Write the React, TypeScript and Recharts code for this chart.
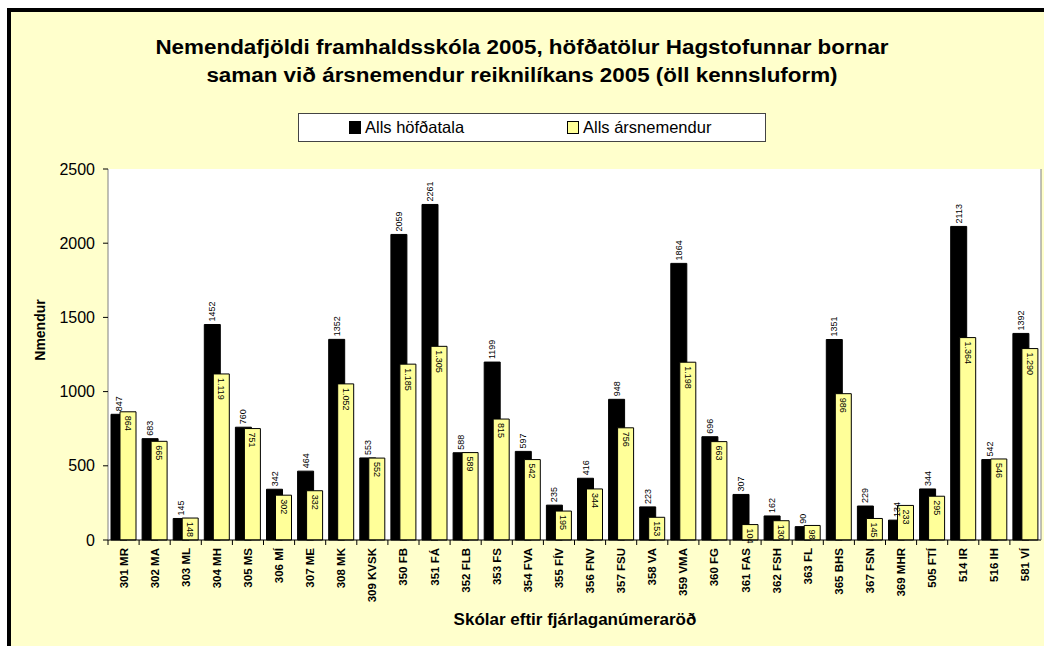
import React from 'react';
import { BarChart, Bar, XAxis, YAxis, CartesianGrid, LabelList, Legend } from 'recharts';

const categories = [
  '301 MR', '302 MA', '303 ML', '304 MH', '305 MS', '306 MÍ', '307 ME', '308 MK', '309 KVSK', '350 FB',
  '351 FÁ', '352 FLB', '353 FS', '354 FVA', '355 FÍV', '356 FNV', '357 FSU', '358 VA', '359 VMA', '360 FG',
  '361 FAS', '362 FSH', '363 FL', '365 BHS', '367 FSN', '369 MHR', '505 FTÍ', '514 IR', '516 IH', '581 VÍ',
];
const hofdatala = [
  847, 683, 145, 1452, 760, 342, 464, 1352, 553, 2059,
  2261, 588, 1199, 597, 235, 416, 948, 223, 1864, 696,
  307, 162, 90, 1351, 229, 134, 344, 2113, 542, 1392,
];
const arsnemendur = [
  864, 665, 148, 1119, 751, 302, 332, 1052, 552, 1185,
  1305, 589, 815, 542, 195, 344, 756, 153, 1198, 663,
  104, 130, 98, 986, 145, 233, 295, 1364, 546, 1290,
];
const yTicks = [0, 500, 1000, 1500, 2000, 2500];
const blackGrid = [1000, 1500, 2000];
const grayGrid = [500, 2500];

const seriesNames = { hofdatala: 'Alls höfðatala', arsnemendur: 'Alls ársnemendur' };
const titleLines = [
  'Nemendafjöldi framhaldsskóla 2005, höfðatölur Hagstofunnar bornar',
  'saman við ársnemendur reiknilíkans 2005 (öll kennsluform)',
];
const xTitle = 'Skólar eftir fjárlaganúmeraröð';
const yTitle = 'Nmendur';

const data = categories.map((name, i) => ({ name, hofdatala: hofdatala[i], arsnemendur: arsnemendur[i] }));

const FONT = '"Liberation Sans", Arial, Helvetica, sans-serif';
const YELLOW = '#FFFF99';
const BG = '#FFFFCC';

const fmtDot = (v: number) => {
  const s = String(Math.round(v));
  return s.length > 3 ? s.slice(0, s.length - 3) + '.' + s.slice(s.length - 3) : s;
};

const XTick = (props: any) => {
  const { x, y, payload } = props;
  const half = payload && payload.offset != null ? payload.offset : 15.5;
  return (
    <g>
      <line x1={x - half} x2={x - half} y1={y} y2={y + 5} stroke="#000" />
      <text
        transform={`translate(${x + 4},${y + 8}) rotate(-90)`}
        textAnchor="end"
        fontSize={11.5}
        fontWeight="bold"
        fill="#000"
        fontFamily={FONT}
      >
        {payload.value}
      </text>
    </g>
  );
};

const BlackLabel = (props: any) => {
  const { x, y, width, value } = props;
  const cx = Number(x) + Number(width) / 2;
  return (
    <text
      transform={`translate(${cx + 3},${Number(y) - 3}) rotate(-90)`}
      textAnchor="start"
      fontSize={9}
      fill="#000"
      fontFamily={FONT}
    >
      {value}
    </text>
  );
};

const YellowLabel = (props: any) => {
  const { x, y, width, value } = props;
  const cx = Number(x) + Number(width) / 2;
  return (
    <text
      transform={`translate(${cx - 3},${Number(y) + 4}) rotate(90)`}
      textAnchor="start"
      fontSize={9}
      fill="#000"
      fontFamily={FONT}
    >
      {fmtDot(Number(value))}
    </text>
  );
};

const LegendBox = (props: any) => {
  const items = props.payload || [];
  return (
    <div
      style={{
        width: 466,
        height: 27,
        background: '#fff',
        border: '1px solid #444',
        position: 'relative',
        fontFamily: FONT,
        fontSize: 16.5,
        color: '#000',
      }}
    >
      {items.map((it: any, i: number) => (
        <div
          key={i}
          style={{
            position: 'absolute',
            left: i === 0 ? 50 : 268,
            top: 4,
            display: 'flex',
            alignItems: 'center',
            whiteSpace: 'nowrap',
          }}
        >
          <span
            style={{
              display: 'inline-block',
              width: 10,
              height: 11,
              background: it.color,
              border: '1px solid #000',
              marginRight: 4,
            }}
          />
          <span>{it.value}</span>
        </div>
      ))}
    </div>
  );
};

export default function App() {
  return (
    <div
      style={{
        position: 'absolute',
        left: 0,
        top: 0,
        width: 1044,
        height: 646,
        background: '#fff',
        overflow: 'hidden',
        fontFamily: FONT,
      }}
    >
      <div
        style={{
          position: 'absolute',
          left: 7,
          top: 8,
          width: 1044,
          height: 646,
          background: BG,
          borderLeft: '4px solid #000',
          borderTop: '4px solid #000',
        }}
      />
      {titleLines.map((t, i) => (
        <div
          key={i}
          style={{
            position: 'absolute',
            left: 0,
            width: 1044,
            top: 34 + i * 28,
            textAlign: 'center',
            fontWeight: 'bold',
            fontSize: 20,
            lineHeight: '26px',
            transform: 'scaleX(1.12)',
            transformOrigin: '522px 0',
            color: '#000',
            whiteSpace: 'nowrap',
          }}
        >
          {t}
        </div>
      ))}
      <div
        style={{
          position: 'absolute',
          left: 575 - 200,
          width: 400,
          top: 609,
          textAlign: 'center',
          fontWeight: 'bold',
          fontSize: 17,
          lineHeight: '22px',
          color: '#000',
          whiteSpace: 'nowrap',
        }}
      >
        {xTitle}
      </div>
      <div
        style={{
          position: 'absolute',
          left: 40 - 60,
          top: 330 - 11,
          width: 120,
          textAlign: 'center',
          fontWeight: 'bold',
          fontSize: 14,
          lineHeight: '22px',
          transform: 'rotate(-90deg)',
          transformOrigin: '60px 11px',
          color: '#000',
          whiteSpace: 'nowrap',
        }}
      >
        {yTitle}
      </div>
      <div style={{ position: 'absolute', left: 0, top: 0 }}>
        <BarChart
          width={1044}
          height={646}
          data={data}
          margin={{ top: 169, right: 2, bottom: 46, left: 48 }}
          barSize={16}
          barGap={-7}
          style={{ fontFamily: FONT }}
        >
          <CartesianGrid
            vertical={false}
            horizontalValues={blackGrid}
            stroke="#000"
            strokeWidth={1}
            fill="#fff"
            fillOpacity={1}
          />
          <CartesianGrid vertical={false} horizontalValues={grayGrid} stroke="#808080" strokeWidth={1} />
          <XAxis
            dataKey="name"
            type="category"
            height={60}
            interval={0}
            tickSize={0}
            tickMargin={0}
            tickLine={false}
            axisLine={{ stroke: '#000' }}
            tick={<XTick />}
          />
          <YAxis
            yAxisId="left"
            domain={[0, 2500]}
            ticks={yTicks}
            width={60}
            tickSize={5}
            tickMargin={8}
            axisLine={{ stroke: '#808080' }}
            tickLine={{ stroke: '#000' }}
            tick={{ fill: '#000', fontSize: 16, fontFamily: FONT }}
            interval={0}
          />
          <YAxis
            yAxisId="right"
            orientation="right"
            domain={[0, 2500]}
            width={1}
            tick={false}
            tickLine={false}
            axisLine={{ stroke: '#808080' }}
          />
          <Legend
            layout="vertical"
            align="center"
            verticalAlign="middle"
            content={<LegendBox />}
            wrapperStyle={{ left: 298, top: 113, width: 468, height: 29 }}
          />
          <Bar
            yAxisId="left"
            dataKey="hofdatala"
            name={seriesNames.hofdatala}
            fill="#000"
            stroke="#000"
            strokeWidth={1}
            isAnimationActive={false}
          >
            <LabelList dataKey="hofdatala" content={<BlackLabel />} />
          </Bar>
          <Bar
            yAxisId="left"
            dataKey="arsnemendur"
            name={seriesNames.arsnemendur}
            fill={YELLOW}
            stroke="#000"
            strokeWidth={1}
            isAnimationActive={false}
          >
            <LabelList dataKey="arsnemendur" content={<YellowLabel />} />
          </Bar>
        </BarChart>
      </div>
    </div>
  );
}
